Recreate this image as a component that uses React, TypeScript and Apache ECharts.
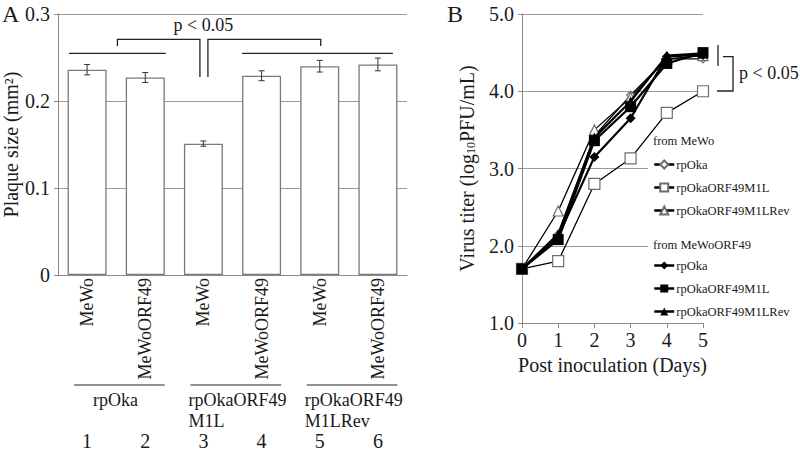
import React, { useEffect, useRef } from "react";
import * as echarts from "echarts";

// ---------- Panel A data ----------
const cellLines = ["MeWo", "MeWoORF49", "MeWo", "MeWoORF49", "MeWo", "MeWoORF49"];
const plaqueMeans = [0.236, 0.227, 0.151, 0.229, 0.240, 0.242];
const plaqueErrors = [0.006, 0.0057, 0.003, 0.0057, 0.0067, 0.0073];
const virusGroups = [["rpOka"], ["rpOkaORF49", "M1L"], ["rpOkaORF49", "M1LRev"]];
const laneNumbers = ["1", "2", "3", "4", "5", "6"];

// ---------- Panel B data ----------
const days = [0, 1, 2, 3, 4, 5];
const mewoRpOka = [1.7, 2.15, 3.42, 3.95, 4.42, 4.42];
const mewoM1L = [1.7, 1.8, 2.8, 3.13, 3.72, 4.0];
const mewoM1LRev = [1.7, 2.45, 3.5, 3.92, 4.42, 4.46];
const orfRpOka = [1.7, 2.12, 3.15, 3.65, 4.45, 4.47];
const orfM1L = [1.7, 2.08, 3.36, 3.8, 4.36, 4.5];
const orfM1LRev = [1.7, 2.15, 3.4, 3.87, 4.46, 4.49];

const FONT = "Liberation Serif";
const GRID_COLOR = "#9a9a9a";
const AXIS_COLOR = "#8a8a8a";
const TEXT = "#1a1a1a";

const pairs = (vals: number[]) => days.map((d, i) => [d, vals[i]]);

export default function App() {
  const ref = useRef<HTMLDivElement>(null);
  useEffect(() => {
    if (!ref.current) return;
    const chart = echarts.init(ref.current, undefined, { renderer: "svg" });

    const lineSeries = (
      name: string,
      vals: number[],
      symbol: string,
      size: number,
      filled: boolean,
      width: number
    ) => ({
      type: "line",
      name,
      xAxisIndex: 1,
      yAxisIndex: 1,
      data: pairs(vals),
      symbol,
      symbolSize: size,
      showSymbol: true,
      lineStyle: { color: "#000", width },
      itemStyle: filled
        ? { color: "#000", borderColor: "#000", borderWidth: 0 }
        : { color: "#fff", borderColor: "#6e6e6e", borderWidth: 1.2 },
      z: filled ? 4 : 3,
    });

    const legendCommon = {
      orient: "vertical",
      left: 653,
      padding: 0,
      itemWidth: 20,
      itemHeight: 10,
      itemGap: 10,
      z: 10,
      formatter: (n: string) => n.split("|")[1],
      textStyle: { fontSize: 12.5, fontFamily: FONT, color: TEXT, padding: [0, 0, 0, -3] },
      lineStyle: { width: 2.5, color: "#000" },
    };

    const option: any = {
      animation: false,
      textStyle: { fontFamily: FONT, color: TEXT },
      grid: [
        { left: 58, top: 14, width: 349, height: 261 },
        { left: 522, top: 14, width: 181, height: 309 },
      ],
      xAxis: [
        {
          type: "category",
          gridIndex: 0,
          data: cellLines,
          boundaryGap: true,
          axisLine: { show: true, lineStyle: { color: AXIS_COLOR, width: 1 } },
          axisTick: { show: false },
          axisLabel: { show: false },
        },
        {
          type: "value",
          gridIndex: 1,
          min: 0,
          max: 5,
          interval: 1,
          name: "Post inoculation (Days)",
          nameLocation: "middle",
          nameGap: 24,
          nameTextStyle: { fontSize: 20, fontFamily: FONT, color: TEXT },
          axisLine: { show: true, lineStyle: { color: AXIS_COLOR, width: 1 } },
          axisTick: { show: true, inside: false, length: 5, lineStyle: { color: AXIS_COLOR } },
          axisLabel: { fontSize: 20, margin: 7, fontFamily: FONT, color: TEXT },
          splitLine: { show: false },
        },
      ],
      yAxis: [
        {
          type: "value",
          gridIndex: 0,
          min: 0,
          max: 0.3,
          interval: 0.1,
          name: "Plaque size (mm²)",
          nameLocation: "middle",
          nameGap: 33,
          nameTextStyle: { fontSize: 20, fontFamily: FONT, color: TEXT },
          axisLine: { show: true, lineStyle: { color: AXIS_COLOR, width: 1 } },
          axisTick: { show: true, inside: false, length: 4, lineStyle: { color: AXIS_COLOR } },
          axisLabel: {
            fontSize: 20,
            margin: 8,
            fontFamily: FONT,
            color: TEXT,
            formatter: (v: number) => (v === 0 ? "0" : v.toFixed(1)),
          },
          splitLine: { show: true, lineStyle: { color: GRID_COLOR, width: 1 } },
        },
        {
          type: "value",
          gridIndex: 1,
          min: 1,
          max: 5,
          interval: 1,
          name: "{a|Virus titer (log}{s|10}{a|PFU/mL)}",
          nameLocation: "middle",
          nameGap: 45,
          nameTextStyle: {
            fontSize: 20,
            fontFamily: FONT,
            color: TEXT,
            rich: {
              a: { fontSize: 20, fontFamily: FONT, color: TEXT },
              s: { fontSize: 12, fontFamily: FONT, color: TEXT, verticalAlign: "bottom", padding: [6, 0, 0, 0] },
            },
          },
          axisLine: { show: true, lineStyle: { color: AXIS_COLOR, width: 1 } },
          axisTick: { show: true, inside: false, length: 4, lineStyle: { color: AXIS_COLOR } },
          axisLabel: {
            fontSize: 20,
            margin: 8,
            fontFamily: FONT,
            color: TEXT,
            formatter: (v: number) => v.toFixed(1),
          },
          splitLine: { show: true, lineStyle: { color: GRID_COLOR, width: 1 } },
        },
      ],
      legend: [
        {
          ...legendCommon,
          top: 158,
          data: ["MeWo|rpOka", "MeWo|rpOkaORF49M1L", "MeWo|rpOkaORF49M1LRev"],
        },
        {
          ...legendCommon,
          top: 259,
          data: ["ORF49|rpOka", "ORF49|rpOkaORF49M1L", "ORF49|rpOkaORF49M1LRev"],
        },
      ],
      series: [
        {
          type: "bar",
          xAxisIndex: 0,
          yAxisIndex: 0,
          data: plaqueMeans,
          barWidth: 39,
          itemStyle: { color: "#fff", borderColor: "#7a7a7a", borderWidth: 1.3 },
          z: 2,
        },
        {
          type: "custom",
          xAxisIndex: 0,
          yAxisIndex: 0,
          z: 5,
          encode: { x: 0, y: [1, 2] },
          data: plaqueMeans.map((m, i) => [i, m - plaqueErrors[i], m + plaqueErrors[i]]),
          renderItem: (params: any, api: any) => {
            const x = api.value(0);
            const lo = api.coord([x, api.value(1)]);
            const hi = api.coord([x, api.value(2)]);
            const w = 3;
            const st = { stroke: "#333", lineWidth: 1 };
            return {
              type: "group",
              children: [
                { type: "line", shape: { x1: lo[0], y1: lo[1], x2: hi[0], y2: hi[1] }, style: st },
                { type: "line", shape: { x1: lo[0] - w, y1: lo[1], x2: lo[0] + w, y2: lo[1] }, style: st },
                { type: "line", shape: { x1: hi[0] - w, y1: hi[1], x2: hi[0] + w, y2: hi[1] }, style: st },
              ],
            };
          },
        },
        lineSeries("MeWo|rpOka", mewoRpOka, "diamond", 8, false, 1.3),
        lineSeries("MeWo|rpOkaORF49M1L", mewoM1L, "rect", 11, false, 1.3),
        lineSeries("MeWo|rpOkaORF49M1LRev", mewoM1LRev, "triangle", 10, false, 1.3),
        lineSeries("ORF49|rpOka", orfRpOka, "diamond", 10, true, 2.2),
        lineSeries("ORF49|rpOkaORF49M1L", orfM1L, "rect", 11, true, 2.2),
        lineSeries("ORF49|rpOkaORF49M1LRev", orfM1LRev, "triangle", 10, true, 2.2),
      ],
    };
    chart.setOption(option);

    const pa = (cat: number, v: number) =>
      chart.convertToPixel({ xAxisIndex: 0, yAxisIndex: 0 }, [cat, v]) as number[];
    const cx = (i: number) => pa(i, 0)[0];
    const ya = (v: number) => pa(0, v)[1];

    const stroke = { stroke: "#222", lineWidth: 1.3, fill: null };
    const g: any[] = [];
    // Panel labels
    g.push({ type: "text", x: 2, y: 2, style: { text: "A", font: `24px ${FONT}`, fill: TEXT } });
    g.push({ type: "text", x: 447, y: 2, style: { text: "B", font: `24px ${FONT}`, fill: TEXT } });

    // Panel A rotated cell-line labels
    cellLines.forEach((t, i) => {
      g.push({
        type: "text",
        x: cx(i),
        y: ya(0) + 3,
        rotation: Math.PI / 2,
        style: { text: t, font: `18px ${FONT}`, fill: TEXT, align: "right", verticalAlign: "middle" },
      });
    });

    // Panel A significance annotations
    const ySig = ya(0.2548);
    g.push({ type: "line", shape: { x1: cx(0) - 18, y1: ySig, x2: cx(1) + 20.5, y2: ySig }, style: stroke });
    g.push({ type: "line", shape: { x1: cx(3) - 19.5, y1: ySig, x2: cx(5) + 15, y2: ySig }, style: stroke });
    const yTop = ya(0.2709), yTick = ya(0.2632), yBot = ya(0.2276);
    const lMid = (cx(0) - 18 + cx(1) + 20.5) / 2;
    g.push({
      type: "polyline",
      shape: { points: [[lMid, yTick], [lMid, yTop], [cx(2) - 3.5, yTop], [cx(2) - 3.5, yBot]] },
      style: stroke,
    });
    g.push({
      type: "polyline",
      shape: { points: [[cx(2) + 4.5, yBot], [cx(2) + 4.5, yTop], [cx(4) + 1, yTop], [cx(4) + 1, yTick]] },
      style: stroke,
    });
    g.push({
      type: "text",
      x: cx(2),
      y: ya(0.2874),
      style: { text: "p < 0.05", font: `18px ${FONT}`, fill: TEXT, align: "center", verticalAlign: "middle" },
    });

    // Panel A group labels below axis
    virusGroups.forEach((lines, k) => {
      const a = 2 * k, b = 2 * k + 1;
      g.push({
        type: "line",
        shape: { x1: cx(a) - 13, y1: 385, x2: cx(b) + 19.5, y2: 385 },
        style: { stroke: "#222", lineWidth: 1.2 },
      });
      const left = k === 0 ? cx(a) + 6 : cx(a) - 15;
      lines.forEach((t, j) => {
        g.push({
          type: "text",
          x: left,
          y: 400 + j * 21,
          style: { text: t, font: `18px ${FONT}`, fill: TEXT, align: "left", verticalAlign: "middle" },
        });
      });
    });
    laneNumbers.forEach((n, i) => {
      g.push({
        type: "text",
        x: cx(i),
        y: 441,
        style: { text: n, font: `20px ${FONT}`, fill: TEXT, align: "center", verticalAlign: "middle" },
      });
    });

    // Panel B legend backdrop and headers
    g.push({ type: "rect", z: 3, shape: { x: 648, y: 130, width: 60, height: 190 }, style: { fill: "#fff" } });
    g.push({
      type: "text",
      z: 11,
      x: 653,
      y: 141,
      style: { text: "from MeWo", font: `12.5px ${FONT}`, fill: TEXT, verticalAlign: "middle" },
    });
    g.push({
      type: "text",
      z: 11,
      x: 653,
      y: 245,
      style: { text: "from MeWoORF49", font: `12.5px ${FONT}`, fill: TEXT, verticalAlign: "middle" },
    });

    // Panel B significance bracket
    g.push({ type: "line", shape: { x1: 718, y1: 45, x2: 718, y2: 66 }, style: stroke });
    g.push({
      type: "polyline",
      shape: { points: [[723, 56.7], [733, 56.7], [733, 91], [717, 91]] },
      style: stroke,
    });
    g.push({
      type: "text",
      x: 739,
      y: 73,
      style: { text: "p < 0.05", font: `18px ${FONT}`, fill: TEXT, verticalAlign: "middle" },
    });

    chart.setOption({ graphic: g });

    return () => chart.dispose();
  }, []);

  return (
    <div
      ref={ref}
      style={{ position: "fixed", left: 0, top: 0, width: 800, height: 451, background: "#fff" }}
    />
  );
}
